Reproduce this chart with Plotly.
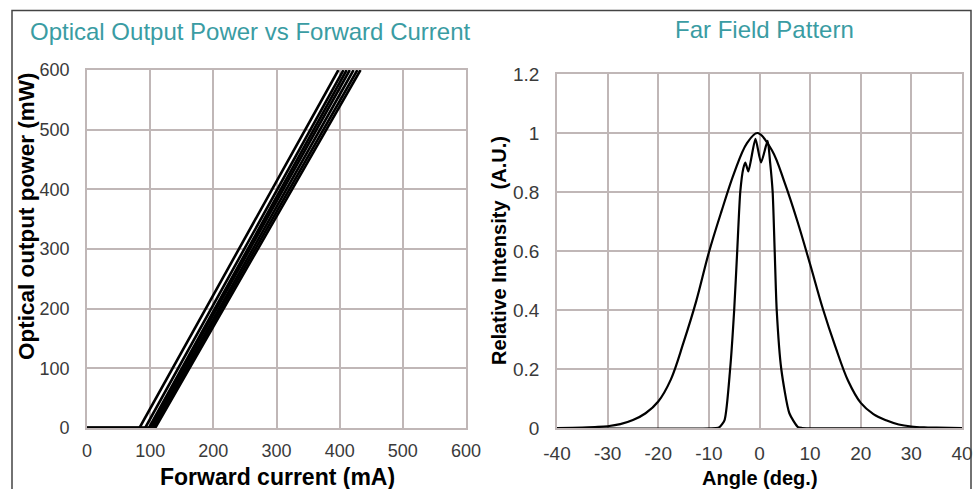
import plotly.graph_objects as go

W, H = 979, 489

# ---------------- Data: Optical output power vs forward current ----------------
li_power = [0, 0, 600]                       # mW at [0 mA, threshold, end]
li_threshold = [83, 92, 98, 100, 103, 105, 108]      # mA where output starts
li_current_600 = [398, 406, 411, 416, 422, 428, 433]  # mA where output reaches 600 mW

# ---------------- Data: Far field pattern ----------------
ff_wide_angle = [-40, -35, -32.5, -30, -27.5, -25, -22.5, -20, -17.5, -15, -12.5, -10,
                 -7.5, -5, -2.5, -0.4, 2.5, 5, 7.5, 10, 12.5, 15, 17.5, 20, 22.5, 25,
                 27.5, 30, 32.5, 35, 40]
ff_wide_int = [0, 0.001, 0.003, 0.006, 0.013, 0.027, 0.05, 0.09, 0.165, 0.29, 0.43, 0.595,
               0.735, 0.865, 0.965, 1.0, 0.94, 0.83, 0.7, 0.555, 0.405, 0.275, 0.16, 0.085,
               0.047, 0.026, 0.012, 0.005, 0.002, 0.001, 0]

ff_narrow_angle = [-40, -8.6, -7.9, -6.9, -5.8, -5.0, -4.4, -3.8, -3.2, -2.8, -2.2,
                   -0.8, 0.3, 1.6, 2.1, 2.6, 3.0, 3.4, 4.3, 5.9, 7.6, 8.4, 40]
ff_narrow_int = [0, 0, 0.003, 0.027, 0.2, 0.4, 0.6, 0.8, 0.88, 0.90, 0.87,
                 0.98, 0.90, 0.973, 0.9, 0.8, 0.6, 0.4, 0.2, 0.05, 0.003, 0, 0]

x1_ticks = [0, 100, 200, 300, 400, 500, 600]
y1_ticks = [0, 100, 200, 300, 400, 500, 600]
x2_ticks = [-40, -30, -20, -10, 0, 10, 20, 30, 40]
x2_labels = ["-40", "-30", "-20", "-10", "0", "10", "20", "30", "40"]
y2_ticks = [0, 0.2, 0.4, 0.6, 0.8, 1.0, 1.2]
y2_labels = ["0", "0.2", "0.4", "0.6", "0.8", "1", "1.2"]

FONT = "Arial, Liberation Sans, sans-serif"
GRID = "#c0b7b7"
TEAL = "#3a9ca3"
TICK = "#3a3a3a"


def px(x):
    return x / W


def py(y):
    return 1 - y / H


fig = go.Figure()

for th, i600 in zip(li_threshold, li_current_600):
    fig.add_trace(go.Scatter(x=[0, th, i600], y=li_power, mode="lines",
                             line=dict(color="black", width=2.6),
                             xaxis="x", yaxis="y", showlegend=False))

fig.add_trace(go.Scatter(x=ff_wide_angle, y=ff_wide_int, mode="lines",
                         line=dict(color="black", width=2.2, shape="spline", smoothing=1.0),
                         xaxis="x2", yaxis="y2", showlegend=False))
fig.add_trace(go.Scatter(x=ff_narrow_angle, y=ff_narrow_int, mode="lines",
                         line=dict(color="black", width=2.2, shape="spline", smoothing=0.6),
                         xaxis="x2", yaxis="y2", showlegend=False))


def axis(size, **kw):
    d = dict(showgrid=True, gridcolor=GRID, gridwidth=1.6, zeroline=False,
             showline=True, linecolor=GRID, linewidth=1.6, mirror=True,
             ticks="", automargin=False,
             tickfont=dict(family=FONT, size=size, color=TICK))
    d.update(kw)
    return d


fig.update_layout(
    width=W, height=H,
    margin=dict(l=0, r=0, t=0, b=0, pad=0, autoexpand=False),
    paper_bgcolor="white", plot_bgcolor="white",
    showlegend=False,
    xaxis=axis(18, domain=[px(87), px(466)], range=[0, 600], tickvals=x1_ticks,
               anchor="y", ticklabelstandoff=6),
    yaxis=axis(18, domain=[py(428), py(70)], range=[0, 600], tickvals=y1_ticks,
               anchor="x", ticklabelstandoff=12),
    xaxis2=axis(19, domain=[px(557), px(962)], range=[-40, 40], tickvals=x2_ticks,
                ticktext=x2_labels, anchor="y2", ticklabelstandoff=7),
    yaxis2=axis(19, domain=[py(428), py(74)], range=[0, 1.2], tickvals=y2_ticks,
                ticktext=y2_labels, anchor="x2", ticklabelstandoff=12),
    shapes=[dict(type="rect", xref="paper", yref="paper",
                 x0=px(12), x1=px(971), y0=-0.2, y1=py(10.5),
                 line=dict(color="#444444", width=1.5), fillcolor="rgba(0,0,0,0)")],
    annotations=[
        dict(text="Optical Output Power vs Forward Current", x=px(250), y=py(31),
             xref="paper", yref="paper", showarrow=False, xanchor="center", yanchor="middle",
             font=dict(family=FONT, size=24, color=TEAL)),
        dict(text="Far Field Pattern", x=px(764), y=py(29),
             xref="paper", yref="paper", showarrow=False, xanchor="center", yanchor="middle",
             font=dict(family=FONT, size=24, color=TEAL)),
        dict(text="<b>Optical output power (mW)</b>", x=px(27), y=py(217), textangle=-90,
             xref="paper", yref="paper", showarrow=False, xanchor="center", yanchor="middle",
             font=dict(family=FONT, size=22.5, color="black")),
        dict(text="<b>Forward current (mA)</b>", x=px(277), y=py(477),
             xref="paper", yref="paper", showarrow=False, xanchor="center", yanchor="middle",
             font=dict(family=FONT, size=23, color="black")),
        dict(text="<b>Relative Intensity  (A.U.)</b>", x=px(499), y=py(251), textangle=-90,
             xref="paper", yref="paper", showarrow=False, xanchor="center", yanchor="middle",
             font=dict(family=FONT, size=20, color="black")),
        dict(text="<b>Angle (deg.)</b>", x=px(760), y=py(478),
             xref="paper", yref="paper", showarrow=False, xanchor="center", yanchor="middle",
             font=dict(family=FONT, size=20, color="black")),
    ],
)

fig.write_html("out.html", config={"displayModeBar": False},
               post_script="document.body.style.margin='0';document.body.style.overflow='hidden';")
